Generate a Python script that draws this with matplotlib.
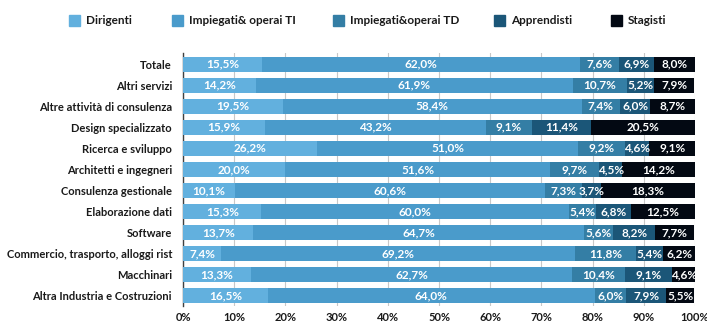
import numpy as np
import matplotlib
matplotlib.use('Agg')
import matplotlib.pyplot as plt
from matplotlib.patches import Rectangle

plt.rcParams['font.family'] = ['Lato', 'DejaVu Sans']

settori = ['Totale', 'Altri servizi', 'Altre attività di consulenza',
           'Design specializzato', 'Ricerca e sviluppo',
           'Architetti e ingegneri', 'Consulenza gestionale',
           'Elaborazione dati', 'Software',
           'Commercio, trasporto, alloggi rist', 'Macchinari',
           'Altra Industria e Costruzioni']

dirigenti = [15.5, 14.2, 19.5, 15.9, 26.2, 20.0, 10.1, 15.3, 13.7, 7.4, 13.3, 16.5]
impiegati_ti = [62.0, 61.9, 58.4, 43.2, 51.0, 51.6, 60.6, 60.0, 64.7, 69.2, 62.7, 64.0]
impiegati_td = [7.6, 10.7, 7.4, 9.1, 9.2, 9.7, 7.3, 5.4, 5.6, 11.8, 10.4, 6.0]
apprendisti = [6.9, 5.2, 6.0, 11.4, 4.6, 4.5, 3.7, 6.8, 8.2, 5.4, 9.1, 7.9]
stagisti = [8.0, 7.9, 8.7, 20.5, 9.1, 14.2, 18.3, 12.5, 7.7, 6.2, 4.6, 5.5]

serie = [('Dirigenti', dirigenti, '#62b0de'),
         ('Impiegati& operai TI', impiegati_ti, '#4a9bcb'),
         ('Impiegati&operai TD', impiegati_td, '#347ea5'),
         ('Apprendisti', apprendisti, '#1b5678'),
         ('Stagisti', stagisti, '#030913')]

W, H = 707, 322
fig = plt.figure(figsize=(W / 100, H / 100), dpi=100)
ax = fig.add_axes([0.259, 0.0497, 0.724, 0.786])

y = np.arange(len(settori))
left = np.zeros(len(settori))
for nome, valori, colore in serie:
    v = np.array(valori)
    ax.barh(y, v, left=left, height=0.71, color=colore, label=nome, zorder=3)
    for yi, l, w in zip(y, left, v):
        ax.text(l + w / 2, yi, f'{w:.1f}%'.replace('.', ','),
                ha='center', va='center', color='white', fontsize=8.5,
                fontweight='bold', zorder=4, clip_on=True)
    left += v

ax.set_xlim(0, 100)
ax.set_ylim(11.49, -0.53)
ax.set_yticks(y)
ax.set_yticklabels(settori, fontsize=8, fontweight='bold', color='#1a1a1a')
ax.set_xticks(np.arange(0, 101, 10))
ax.set_xticklabels([f'{t}%' for t in range(0, 101, 10)], fontsize=8,
                   fontweight='bold', color='#1a1a1a')
ax.tick_params(axis='y', length=0, pad=8)
ax.tick_params(axis='x', length=0, pad=4)
ax.grid(axis='x', color='#c8c8c8', linewidth=0.8, zorder=0)
for s in ['top', 'right', 'bottom']:
    ax.spines[s].set_visible(False)
ax.spines['left'].set_color('#404040')
ax.spines['left'].set_linewidth(1.0)

# legenda su una riga sopra il grafico
leg_x = [69, 172, 333, 494, 611]
for x0, (nome, _, colore) in zip(leg_x, serie):
    fig.patches.append(Rectangle((x0 / W, 1 - 26 / H), 11 / W, 11 / H,
                                 transform=fig.transFigure, color=colore))
    fig.text((x0 + 17) / W, 1 - 20.5 / H, nome, ha='left', va='center',
             fontsize=8.5, fontweight='bold', color='#1a1a1a')

fig.savefig('out.png', dpi=100)
